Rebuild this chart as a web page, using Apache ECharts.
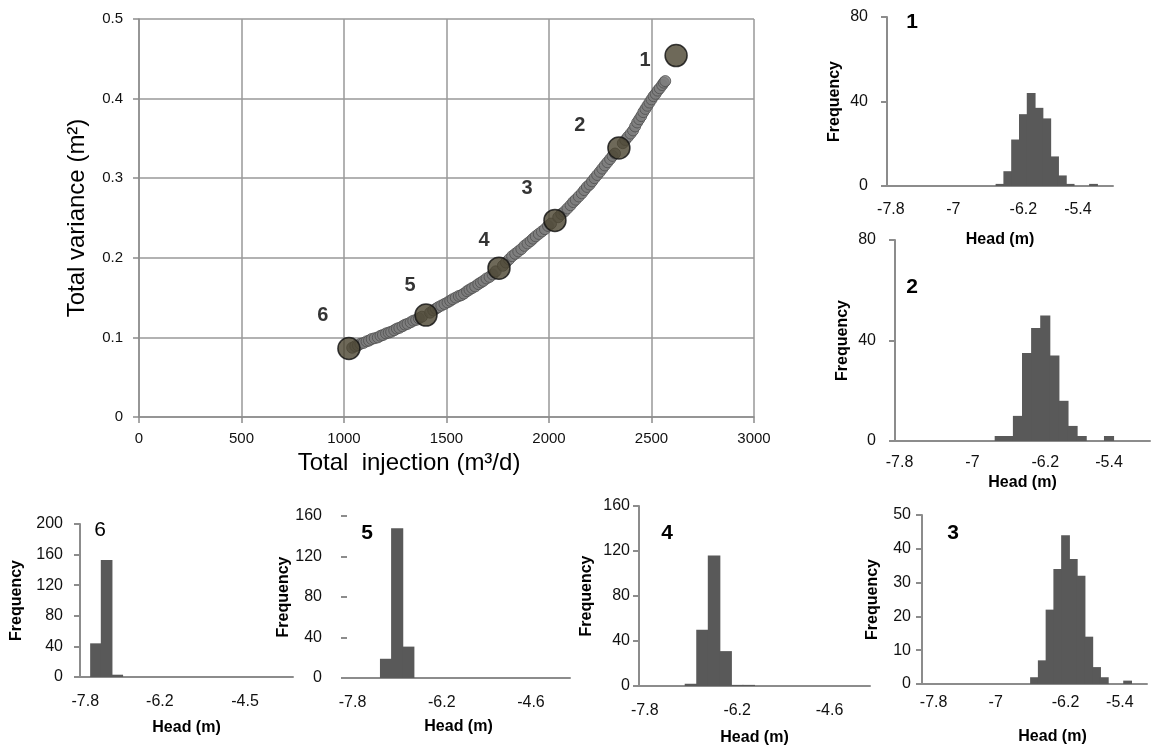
<!DOCTYPE html>
<html><head><meta charset="utf-8">
<script src="https://cdn.jsdelivr.net/npm/echarts@6/dist/echarts.min.js"></script>
<style>html,body{margin:0;padding:0;background:#fff}#c{width:1153px;height:749px}</style>
</head><body><div id="c"></div>
<script>
// ---------- main scatter data ----------
const injection = [1040,1055,1068,1080,1095,1110,1122,1135,1150,1165,1178,1190,1205,1218,1230,1245,1258,1270,1285,1298,1310,1325,1338,1352,1365,1380,1420,1435,1448,1460,1475,1490,1505,1518,1530,1545,1560,1572,1585,1600,1612,1625,1640,1655,1668,1680,1695,1710,1725,1740,1775,1790,1805,1820,1835,1850,1865,1880,1895,1910,1922,1935,1950,1965,1980,1995,2010,2045,2060,2075,2090,2105,2118,2130,2145,2160,2172,2185,2198,2210,2222,2235,2248,2260,2272,2285,2298,2310,2322,2360,2372,2385,2398,2410,2420,2430,2440,2450,2460,2470,2480,2490,2500,2510,2520,2530,2540,2552,2560,2567];
const variance  = [0.087,0.089,0.090,0.092,0.093,0.095,0.096,0.098,0.099,0.100,0.102,0.103,0.105,0.106,0.107,0.109,0.111,0.112,0.114,0.116,0.117,0.119,0.121,0.122,0.124,0.126,0.131,0.134,0.136,0.138,0.140,0.142,0.144,0.146,0.148,0.150,0.152,0.153,0.155,0.158,0.160,0.162,0.164,0.167,0.169,0.171,0.174,0.176,0.179,0.183,0.190,0.194,0.198,0.202,0.205,0.208,0.211,0.215,0.218,0.221,0.224,0.227,0.230,0.233,0.236,0.240,0.243,0.251,0.255,0.258,0.262,0.266,0.270,0.273,0.277,0.281,0.285,0.289,0.292,0.296,0.300,0.304,0.308,0.312,0.316,0.320,0.324,0.328,0.331,0.344,0.348,0.352,0.356,0.360,0.365,0.370,0.374,0.378,0.383,0.387,0.391,0.395,0.399,0.403,0.406,0.410,0.413,0.417,0.420,0.422];
const keyInjection = [2620,2341,2029,1756,1400,1024];
const keyVariance  = [0.454,0.338,0.247,0.187,0.128,0.086];
const keyLabels    = ['1','2','3','4','5','6'];

// ---------- histogram data (counts per bin) ----------
const h1Counts = [0,0,0,0,0,0,0,0,0,0,0,0,0,0, 1,7,22,34,44,37,32,14,5,1,0,0,1, 0,0];
const h2Counts = [0,0,0,0,0,0,0,0,0,0,0, 2,2,10,35,45,50,34,16,6,2,0,0,2, 0,0,0,0];
const h3Counts = [0,0,0,0,0,0,0,0,0,0,0,0,0,0, 2,7,22,34,44,37,32,14,5,2,0,0,1, 0,0];
const h4Counts = [0,0,0,0, 2,50,116,31,1,1, 0,0,0,0,0,0,0,0,0,0];
const h5Counts = [0,0,0, 19,148,31, 0,0,0,0,0,0,0,0,0,0,0,0,0,0];
const h6Counts = [0, 44,153,3, 0,0,0,0,0,0,0,0,0,0,0,0,0,0,0,0];

// tick labels (bin index -> text)
const h1TickIdx = [0,8,17,24], h1TickText = ['-7.8','-7','-6.2','-5.4'];
const h2TickIdx = [0,8,16,23], h2TickText = ['-7.8','-7','-6.2','-5.4'];
const h3TickIdx = [1,9,18,25], h3TickText = ['-7.8','-7','-6.2','-5.4'];
const h4TickIdx = [0,8,16],    h4TickText = ['-7.8','-6.2','-4.6'];
const h5TickIdx = [0,8,16],    h5TickText = ['-7.8','-6.2','-4.6'];
const h6TickIdx = [0,7,15],    h6TickText = ['-7.8','-6.2','-4.5'];

// ---------- styling / layout ----------
const FONT = 'Liberation Sans';
const AX = '#8c8c8c';
const BAR = '#595959';
const keyLabelOffsets = [[-31,5],[-39,-22],[-28,-32],[-15,-28],[-16,-30],[-26,-33]];

const grids = [], xAxes = [], yAxes = [], series = [], graphics = [];

grids.push({left:139, top:19, width:615, height:398});
xAxes.push({gridIndex:0, type:'value', min:0, max:3000, interval:500,
  name:'Total  injection (m³/d)', nameLocation:'middle', nameGap:32,
  nameTextStyle:{fontFamily:FONT, fontSize:24, color:'#000', padding:[0,75,0,0]},
  axisLine:{lineStyle:{color:AX, width:1.5}},
  axisTick:{show:true, length:6, lineStyle:{color:AX, width:1.5}},
  axisLabel:{fontFamily:FONT, fontSize:15, color:'#111', margin:14, formatter:v=>String(v)},
  splitLine:{show:true, lineStyle:{color:'#999', width:1.5}}});
yAxes.push({gridIndex:0, type:'value', min:0, max:0.5, interval:0.1,
  name:'Total variance (m²)', nameLocation:'middle', nameGap:50,
  nameTextStyle:{fontFamily:FONT, fontSize:24, color:'#000'},
  axisLine:{show:true, lineStyle:{color:AX, width:1.5}},
  axisTick:{show:true, length:6, lineStyle:{color:AX, width:1.5}},
  axisLabel:{fontFamily:FONT, fontSize:15, color:'#111', margin:16},
  splitLine:{show:true, lineStyle:{color:'#999', width:1.5}}});
series.push({type:'scatter', xAxisIndex:0, yAxisIndex:0, z:2,
  data: injection.map((x,i)=>[x, variance[i]]),
  symbolSize:11, itemStyle:{color:'#7d7d7d', borderColor:'#4f4f4f', borderWidth:1}});
series.push({type:'scatter', xAxisIndex:0, yAxisIndex:0, z:3,
  data: keyInjection.map((x,i)=>({value:[x, keyVariance[i]], label:{offset:keyLabelOffsets[i]}})),
  symbolSize:22, itemStyle:{color:'#4a4430', borderColor:'#111', borderWidth:1.5},
  label:{show:true, position:'inside', formatter:p=>keyLabels[p.dataIndex],
    fontFamily:FONT, fontWeight:'bold', fontSize:20, color:'#000'}});

const layouts = [
  {left:887, top:17,  width:226, height:169, yMax:80,  yInt:40, yMargin:19, xMargin:16, xNameGap:46, yNameGap:44, num:'1', numX:912, numY:22,  bold:true},
  {left:895, top:240, width:255, height:201, yMax:80,  yInt:40, yMargin:19, xMargin:14, xNameGap:34, yNameGap:44, num:'2', numX:912, numY:287, bold:true},
  {left:922, top:515, width:225, height:169, yMax:50,  yInt:10, yMargin:11, xMargin:11, xNameGap:45, yNameGap:41, num:'3', numX:953, numY:533, bold:true, xNamePad:[0,0,0,36]},
  {left:639, top:506, width:231, height:180, yMax:160, yInt:40, yMargin:9,  xMargin:17, xNameGap:44, yNameGap:44, num:'4', numX:667, numY:533, bold:true},
  {left:347, top:516, width:223, height:162, yMax:160, yInt:40, yMargin:25, xMargin:17, xNameGap:41, yNameGap:42, num:'5', numX:367, numY:533, bold:true, noYLine:true},
  {left:80,  top:524, width:213, height:153, yMax:200, yInt:40, yMargin:17, xMargin:17, xNameGap:43, yNameGap:55, num:'6', numX:100, numY:530, bold:false}
];
const hists = [
  [h1Counts, h1TickIdx, h1TickText],
  [h2Counts, h2TickIdx, h2TickText],
  [h3Counts, h3TickIdx, h3TickText],
  [h4Counts, h4TickIdx, h4TickText],
  [h5Counts, h5TickIdx, h5TickText],
  [h6Counts, h6TickIdx, h6TickText]
];
function renderBin(params, api) {
  const v = api.value(1);
  if (!v) return null;
  const top = api.coord([api.value(0), v]);
  const base = api.coord([api.value(0), 0]);
  const w = api.size([1, 0])[0];
  return {type:'rect',
    shape:{x:top[0]-w/2-0.5, y:top[1], width:w+1, height:base[1]-top[1]},
    style:{fill:BAR}};
}
hists.forEach(([counts, tIdx, tText], k) => {
  const L = layouts[k], gi = k + 1;
  grids.push({left:L.left, top:L.top, width:L.width, height:L.height});
  xAxes.push({gridIndex:gi, type:'category', data:counts.map((_,i)=>String(i)), boundaryGap:true,
    name:'Head (m)', nameLocation:'middle', nameGap:L.xNameGap,
    nameTextStyle:{fontFamily:FONT, fontSize:16, fontWeight:'bold', color:'#000', padding:L.xNamePad||0},
    axisLine:{lineStyle:{color:AX, width:2}}, axisTick:{show:false},
    axisLabel:{interval:0, margin:L.xMargin, fontFamily:FONT, fontSize:16, color:'#111',
      formatter:(v,i)=>{const j=tIdx.indexOf(i); return j>=0?tText[j]:'';}},
    splitLine:{show:false}});
  yAxes.push({gridIndex:gi, type:'value', min:0, max:L.yMax, interval:L.yInt,
    name:'Frequency', nameLocation:'middle', nameGap:L.yNameGap,
    nameTextStyle:{fontFamily:FONT, fontSize:16, fontWeight:'bold', color:'#000'},
    axisLine:{show:!L.noYLine, lineStyle:{color:AX, width:2}},
    axisTick:{show:true, length:6, lineStyle:{color:AX, width:2}},
    axisLabel:{margin:L.yMargin, fontFamily:FONT, fontSize:16, color:'#111'},
    splitLine:{show:false}});
  series.push({type:'custom', xAxisIndex:gi, yAxisIndex:gi, z:1,
    data:counts.map((c,i)=>[i,c]), encode:{x:0, y:1}, renderItem:renderBin});
  graphics.push({type:'text', x:L.numX, y:L.numY,
    style:{text:L.num, font:(L.bold?'bold ':'')+'21px "Liberation Sans"', fill:'#000',
      align:'center', verticalAlign:'middle', textAlign:'center', textVerticalAlign:'middle'}});
});

const chart = echarts.init(document.getElementById('c'));
chart.setOption({
  animation:false,
  backgroundColor:'#fff',
  grid:grids, xAxis:xAxes, yAxis:yAxes, series:series, graphic:graphics
});
</script>
</body></html>
